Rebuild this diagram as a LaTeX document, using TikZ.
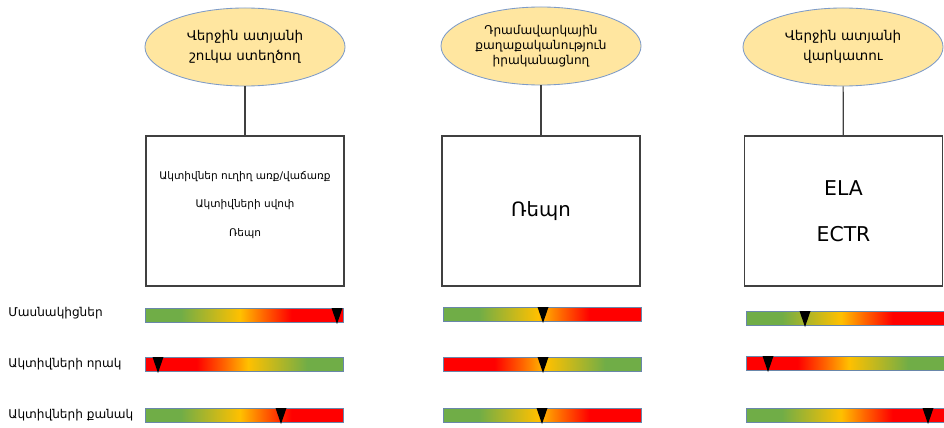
\documentclass[tikz,border=0pt]{standalone}
\usepackage{fontspec}
\setmainfont{DejaVu Sans}
\usetikzlibrary{shapes.geometric}
\definecolor{ovalfill}{RGB}{255,230,160}
\definecolor{ovalline}{RGB}{125,155,200}
\definecolor{boxline}{RGB}{64,64,64}
\definecolor{barline}{RGB}{105,135,170}
\definecolor{barGreen}{RGB}{112,173,71}
\definecolor{barYellow}{RGB}{255,192,0}
\definecolor{barOrange}{RGB}{255,100,0}
\definecolor{barRed}{RGB}{255,0,0}
\pgfdeclarehorizontalshading{gyr}{100bp}{color(0bp)=(barGreen); color(34bp)=(barGreen); color(49bp)=(barYellow); color(55bp)=(barOrange); color(62bp)=(barRed); color(100bp)=(barRed)}
\pgfdeclarehorizontalshading{ryg}{100bp}{color(0bp)=(barRed); color(38bp)=(barRed); color(45bp)=(barOrange); color(51bp)=(barYellow); color(66bp)=(barGreen); color(100bp)=(barGreen)}
\tikzset{
  oval/.style={ellipse, draw=ovalline, fill=ovalfill, line width=.6pt, minimum width=5cm, minimum height=1.95cm, inner sep=0pt, align=center},
  role/.style={draw=boxline, line width=.85pt, minimum width=4.95cm, minimum height=3.75cm, inner sep=0pt, align=center},
  bar/.style={draw=barline, line width=.6pt},
  rowlabel/.style={anchor=west, inner sep=0pt, font=\fontsize{8.6}{10}\selectfont}
}
\begin{document}
\begin{tikzpicture}[x=0.025cm, y=-0.025cm]
\useasboundingbox (0,0) rectangle (944,427);
% top: ellipses and boxes
\node[oval, font=\fontsize{9.6}{14.2}\selectfont] (e1) at (245,47) {Վերջին ատյանի\\շուկա ստեղծող};
\node[oval, font=\fontsize{8.6}{10.7}\selectfont] (e2) at (541,46) {Դրամավարկային\\քաղաքականություն\\իրականացնող};
\node[oval, font=\fontsize{9.6}{14.2}\selectfont] (e3) at (843,47) {Վերջին ատյանի\\վարկատու};
\node[role] (b1) at (245,211) {};
\node[align=center, font=\fontsize{7.5}{20}\selectfont] (t1) at (245,205) {Ակտիվներ ուղիղ առք/վաճառք\\Ակտիվների սվոփ\\Ռեպո};
\node[role, font=\fontsize{14}{17}\selectfont] (b2) at (541,211) {Ռեպո};
\node[role, font=\fontsize{14.5}{32.7}\selectfont] (b3) at (843.5,211) {ELA\\ECTR};
\draw[boxline, line width=.85pt] (e1) -- (b1);
\draw[boxline, line width=.85pt] (e2) -- (b2);
\draw[boxline, line width=.85pt] (e3) -- (b3);
% rows
\node[rowlabel] (r1) at (8,313) {Մասնակիցներ};
\node[rowlabel] (r2) at (8,364) {Ակտիվների որակ};
\node[rowlabel] (r3) at (8,415) {Ակտիվների քանակ};
% bars with markers
\foreach \x/\y/\s/\m in {145/308/gyr/337, 145/357/ryg/158, 145/408/gyr/281,
                         443/307/gyr/543, 443/357/ryg/543, 443/408/gyr/542,
                         746/311/gyr/805, 746/356/ryg/768, 746/408/gyr/928}
{
  \draw[bar, shading=\s] (\x,\y) rectangle ++(198,14);
  \fill (\m-5.5,\y) -- ++(11,0) -- ++(-5.5,16) -- cycle;
}
\end{tikzpicture}
\end{document}
